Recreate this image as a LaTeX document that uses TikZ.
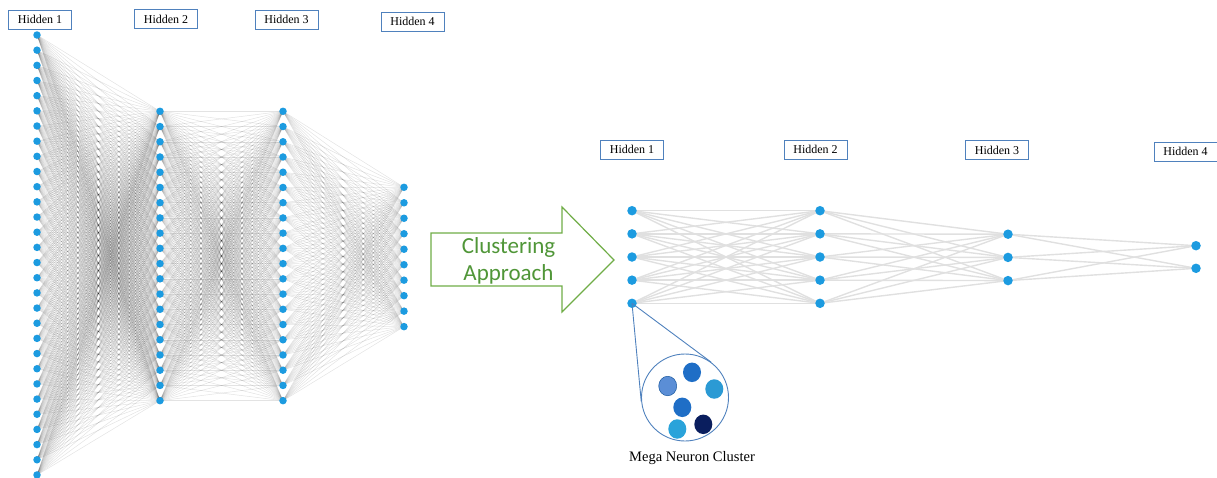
\documentclass[tikz,border=0pt]{standalone}
\usepackage{fontspec}
\setmainfont{Liberation Serif}
\newfontfamily\calibrifont{Carlito}
\usetikzlibrary{calc,shapes.geometric}
\pgfdeclarelayer{edges}
\pgfsetlayers{edges,main}

\definecolor{dotblue}{RGB}{28,155,224}
\definecolor{boxblue}{RGB}{79,129,189}
\definecolor{arrowgreen}{RGB}{112,173,71}
\definecolor{textgreen}{RGB}{80,150,56}
\definecolor{mA}{RGB}{91,142,214}
\definecolor{mB}{RGB}{31,110,198}
\definecolor{mC}{RGB}{43,154,212}
\definecolor{mD}{RGB}{42,163,218}
\definecolor{mE}{RGB}{10,30,94}

\tikzset{
  smalldot/.style={circle,fill=dotblue,inner sep=0pt,minimum size=7.5pt},
  bigdot/.style={circle,fill=dotblue,inner sep=0pt,minimum size=9.5pt},
  denseline/.style={draw=black,opacity=0.11,line width=0.5pt},
  lightline/.style={draw=black!12,line width=1.4pt},
  layerlabel/.style={draw=boxblue,line width=0.8pt,minimum width=63pt,minimum height=19pt,
    inner sep=0pt,font=\fontsize{12}{14}\selectfont},
  megadot/.style={ellipse,inner sep=0pt,minimum width=18pt,minimum height=19.5pt},
  zoomline/.style={draw=boxblue,line width=0.9pt}
}

\begin{document}
\begin{tikzpicture}[x=1pt,y=-1pt]
\useasboundingbox (0,0) rectangle (1217,477);

% ---------- large network (before clustering) ----------
\foreach \i in {0,...,29} \node[smalldot] (a\i) at (37,{35+15.17*\i}) {};
\foreach \i in {0,...,19} \node[smalldot] (b\i) at (160,{111.3+15.23*\i}) {};
\foreach \i in {0,...,19} \node[smalldot] (c\i) at (283,{111.3+15.23*\i}) {};
\foreach \i in {0,...,9}  \node[smalldot] (d\i) at (404,{187.3+15.48*\i}) {};

\begin{pgfonlayer}{edges}
\foreach \i in {0,...,29} \foreach \j in {0,...,19} \draw[denseline] (a\i.center) -- (b\j.center);
\foreach \i in {0,...,19} \foreach \j in {0,...,19} \draw[denseline] (b\i.center) -- (c\j.center);
\foreach \i in {0,...,19} \foreach \j in {0,...,9}  \draw[denseline] (c\i.center) -- (d\j.center);
\end{pgfonlayer}

\node[layerlabel] (la) at (40,19.5) {Hidden 1};
\node[layerlabel] (lb) at (166,19) {Hidden 2};
\node[layerlabel] (lc) at (286.5,19.5) {Hidden 3};
\node[layerlabel] (ld) at (412.5,21.5) {Hidden 4};

% ---------- block arrow ----------
\draw[arrowgreen,line width=1.2pt,fill=white,line join=miter]
  (431,233) -- (562,233) -- (562,207) -- (614,260) -- (562,312) -- (562,286) -- (431,286) -- cycle;
\node[align=center,text=textgreen,inner sep=0pt,font=\calibrifont\fontsize{23}{27}\selectfont]
  (clustering) at (508.5,261) {Clustering\\Approach};

% ---------- reduced network (after clustering) ----------
\foreach \i in {0,...,4} \node[bigdot] (p\i) at (632,{210.7+23.15*\i}) {};
\foreach \i in {0,...,4} \node[bigdot] (q\i) at (820,{210.7+23.15*\i}) {};
\foreach \i in {0,...,2} \node[bigdot] (r\i) at (1008,{234.2+23.2*\i}) {};
\foreach \i in {0,...,1} \node[bigdot] (s\i) at (1196,{245.7+22.6*\i}) {};

\begin{pgfonlayer}{edges}
\foreach \i in {0,...,4} \foreach \j in {0,...,4} \draw[lightline] (p\i.center) -- (q\j.center);
\foreach \i in {0,...,4} \foreach \j in {0,...,2} \draw[lightline] (q\i.center) -- (r\j.center);
\foreach \i in {0,...,2} \foreach \j in {0,...,1} \draw[lightline] (r\i.center) -- (s\j.center);
\end{pgfonlayer}

\node[layerlabel] (lp) at (632,149.7) {Hidden 1};
\node[layerlabel] (lq) at (815.5,149.5) {Hidden 2};
\node[layerlabel] (lr) at (997,150) {Hidden 3};
\node[layerlabel] (ls) at (1185.5,151.5) {Hidden 4};

% ---------- mega neuron cluster ----------
\node[circle,draw=boxblue,line width=0.9pt,minimum size=87pt,inner sep=0pt] (cl) at (685,397.5) {};
\draw[zoomline] (p4.center) -- (tangent cs:node=cl,point={(p4.center)},solution=1);
\draw[zoomline] (p4.center) -- (tangent cs:node=cl,point={(p4.center)},solution=2);

\node[megadot,fill=mA,draw=mB!80!black,line width=0.5pt] (m1) at (667.7,386) {};
\node[megadot,fill=mB] (m2) at (692,372.3) {};
\node[megadot,fill=mC] (m3) at (714.3,389) {};
\node[megadot,fill=mB] (m4) at (682.3,407.3) {};
\node[megadot,fill=mD] (m5) at (677.3,429) {};
\node[megadot,fill=mE] (m6) at (703.3,424.3) {};

\node[font=\fontsize{14.5}{16}\selectfont,inner sep=0pt] (mega) at (692,458) {Mega Neuron Cluster};
\end{tikzpicture}
\end{document}
